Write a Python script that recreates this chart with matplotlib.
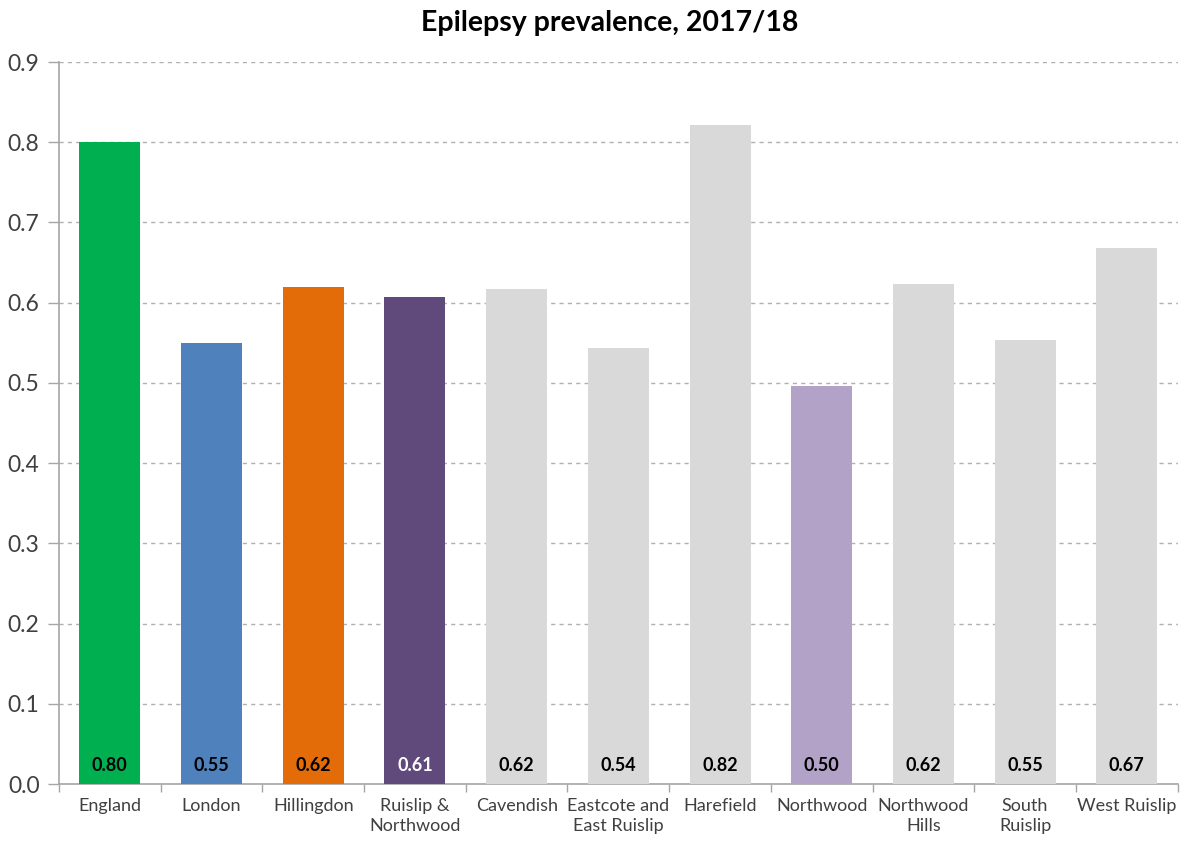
import matplotlib
matplotlib.use("Agg")
import matplotlib.pyplot as plt
import numpy as np

categories = ["England", "London", "Hillingdon", "Ruislip &\nNorthwood", "Cavendish",
              "Eastcote and\nEast Ruislip", "Harefield", "Northwood", "Northwood\nHills",
              "South\nRuislip", "West Ruislip"]
values = [0.80, 0.55, 0.62, 0.607, 0.617, 0.543, 0.822, 0.496, 0.623, 0.554, 0.668]
value_labels = ["0.80", "0.55", "0.62", "0.61", "0.62", "0.54", "0.82", "0.50", "0.62", "0.55", "0.67"]
colors = ["#00B050", "#4F81BD", "#E36C09", "#604A7B", "#D9D9D9", "#D9D9D9",
          "#D9D9D9", "#B3A2C7", "#D9D9D9", "#D9D9D9", "#D9D9D9"]
label_colors = ["black", "black", "black", "white", "black", "black",
                "black", "black", "black", "black", "black"]
yticks = [0.0, 0.1, 0.2, 0.3, 0.4, 0.5, 0.6, 0.7, 0.8, 0.9]

plt.rcParams['font.family'] = ['Lato', 'DejaVu Sans']

fig = plt.figure(figsize=(11.8, 8.44), dpi=100)
ax = fig.add_axes([0.05, 0.071, 0.948, 0.8555])

x = np.arange(len(categories))
ax.bar(x, values, width=0.6, color=colors, zorder=3)

for xi, lab, c in zip(x, value_labels, label_colors):
    ax.annotate(lab, (xi, 0), xytext=(0, 7), textcoords="offset points",
                ha="center", va="bottom", fontsize=13, fontweight="bold", color=c, zorder=4)

ax.set_xlim(-0.5, len(categories) - 0.5)
ax.set_ylim(0, 0.9)
ax.set_yticks(yticks)
ax.set_yticklabels([f"{t:.1f}" for t in yticks], fontsize=16.5, color="#404040")
ax.yaxis.grid(True, linestyle=(0, (3, 3)), color="#B0B0B0", linewidth=1, zorder=0)
ax.set_axisbelow(True)

ax.set_xticks(x)
ax.set_xticklabels(categories, fontsize=13, color="#404040", linespacing=1.3)
ax.tick_params(axis="x", length=0, pad=10)
ax.set_xticks(np.arange(len(categories) + 1) - 0.5, minor=True)
ax.tick_params(axis="x", which="minor", length=6, color="#A6A6A6", width=1)
ax.tick_params(axis="y", length=8, color="#A6A6A6", width=1, pad=6)

for s in ["top", "right"]:
    ax.spines[s].set_visible(False)
for s in ["left", "bottom"]:
    ax.spines[s].set_color("#A6A6A6")
    ax.spines[s].set_linewidth(1.2)

fig.suptitle("Epilepsy prevalence, 2017/18", fontsize=20.5, fontweight="bold",
             x=0.517, y=0.988, va="top", color="black")

fig.savefig("out.png", dpi=100)
